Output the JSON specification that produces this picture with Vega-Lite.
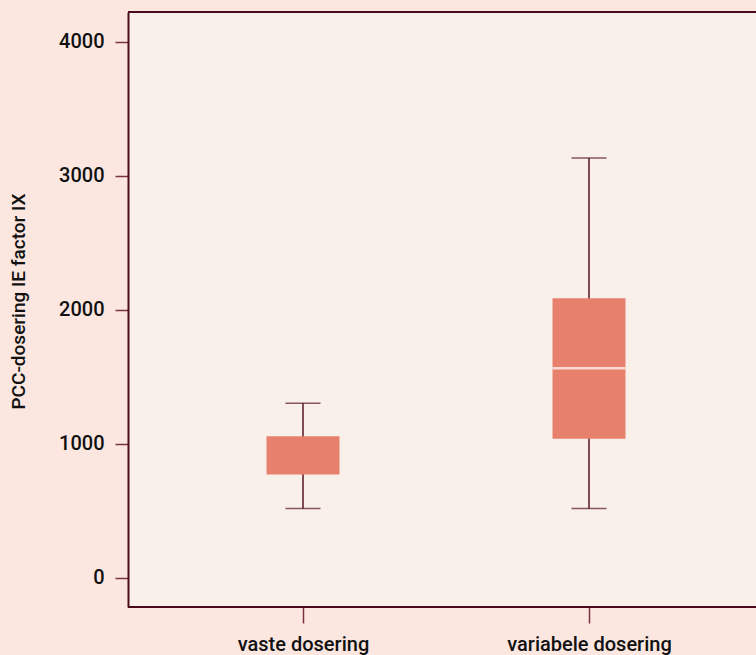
{
  "$schema": "https://vega.github.io/schema/vega-lite/v6.json",
  "width": 628,
  "height": 595,
  "autosize": {"type": "none"},
  "padding": {"left": 128, "top": 12, "right": 0, "bottom": 48},
  "background": "#fbe7e0",
  "config": {
    "view": {"fill": "#faf0ea", "stroke": null},
    "font": "Roboto",
    "axis": {
      "labelFont": "Roboto",
      "labelFontSize": 20,
      "labelFontWeight": 500,
      "labelColor": "#111111",
      "titleFont": "Roboto",
      "titleFontWeight": 500,
      "titleFontSize": 19,
      "titleColor": "#111111",
      "domainColor": "#4a0c1c",
      "domainWidth": 2,
      "tickColor": "#7a3040",
      "tickWidth": 1.5,
      "grid": false
    }
  },
  "data": {
    "values": [
      {"groep": "vaste dosering", "lo": 516, "q1": 770, "med": 1058, "q3": 1056, "hi": 1301},
      {"groep": "variabele dosering", "lo": 516, "q1": 1037, "med": 1563, "q3": 2086, "hi": 3133}
    ]
  },
  "layer": [
    {
      "mark": {"type": "rule", "color": "#551525", "strokeWidth": 1.5},
      "encoding": {
        "x": {
          "field": "groep",
          "type": "nominal",
          "sort": ["vaste dosering", "variabele dosering"],
          "scale": {"type": "point", "range": [175, 461], "padding": 0},
          "axis": {"title": null, "labelAngle": 0, "tickSize": 16, "labelPadding": 11, "domain": false}
        },
        "y": {
          "field": "lo",
          "type": "quantitative",
          "scale": {"domain": [-220, 4224], "nice": false, "zero": false},
          "axis": {"values": [0, 1000, 2000, 3000, 4000], "format": "d", "title": "PCC-dosering IE factor IX", "tickSize": 13, "labelPadding": 11, "titleY": 289, "titleX": -100, "titleAlign": "center"}
        },
        "y2": {"field": "hi"}
      }
    },
    {
      "mark": {"type": "tick", "color": "#551525", "thickness": 1.5, "size": 35},
      "encoding": {
        "x": {"field": "groep", "type": "nominal", "sort": ["vaste dosering", "variabele dosering"]},
        "y": {"field": "lo", "type": "quantitative"}
      }
    },
    {
      "mark": {"type": "tick", "color": "#551525", "thickness": 1.5, "size": 35},
      "encoding": {
        "x": {"field": "groep", "type": "nominal", "sort": ["vaste dosering", "variabele dosering"]},
        "y": {"field": "hi", "type": "quantitative"}
      }
    },
    {
      "mark": {"type": "bar", "color": "#e8806e", "size": 73},
      "encoding": {
        "x": {"field": "groep", "type": "nominal", "sort": ["vaste dosering", "variabele dosering"]},
        "y": {"field": "q1", "type": "quantitative"},
        "y2": {"field": "q3"}
      }
    },
    {
      "transform": [{"filter": "datum.groep == 'variabele dosering'"}],
      "mark": {"type": "tick", "color": "#ffffff", "thickness": 2.5, "size": 73},
      "encoding": {
        "x": {"field": "groep", "type": "nominal", "sort": ["vaste dosering", "variabele dosering"]},
        "y": {"field": "med", "type": "quantitative"}
      }
    },
    {
      "mark": {"type": "rule", "color": "#4a0c1c", "strokeWidth": 2},
      "encoding": {"y": {"datum": 4224}}
    },
    {
      "mark": {"type": "rule", "color": "#4a0c1c", "strokeWidth": 2},
      "encoding": {"y": {"datum": -220}}
    }
  ]
}
